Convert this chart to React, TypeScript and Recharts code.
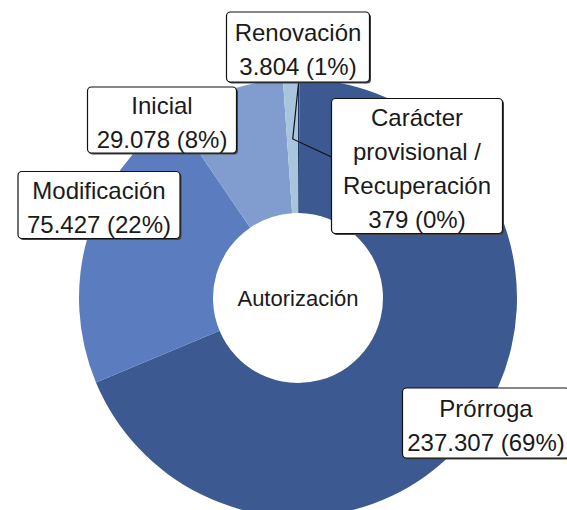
import { PieChart, Pie, Cell } from "recharts";

const categories = ["Carácter provisional / Recuperación", "Prórroga", "Modificación", "Inicial", "Renovación"];
const values = [379, 237307, 75427, 29078, 3804];
const labelNameLines = [["Carácter", "provisional /", "Recuperación"], ["Prórroga"], ["Modificación"], ["Inicial"], ["Renovación"]];
const centerTitle = "Autorización";

const colors = ["#1f3766", "#3c5a91", "#5b7dbf", "#819dd0", "#a9c5dd"];

// label box placement, relative to the pie centre
const labelLayout = [
  { dx: 119, dy: -132, w: 171, h: 135 },
  { dx: 188, dy: 125, w: 167, h: 70 },
  { dx: -199, dy: -93, w: 162, h: 67 },
  { dx: -136, dy: -178, w: 149, h: 66 },
  { dx: 0, dy: -251, w: 143, h: 70 },
];

const data = categories.map((name, i) => ({ name, value: values[i] }));
const total = values.reduce((s, v) => s + v, 0);

const FONT = "'Liberation Sans', Arial, sans-serif";
const LINE = 34;

function fmt(v: number) {
  return String(v).replace(/\B(?=(\d{3})+(?!\d))/g, ".");
}

function renderLabel(props: any) {
  const { cx, cy, index, midAngle, outerRadius } = props;
  const lay = labelLayout[index];
  const bx = cx + lay.dx;
  const by = cy + lay.dy;
  const pct = Math.round((values[index] / total) * 100);
  const lines = [...labelNameLines[index], `${fmt(values[index])} (${pct}%)`];
  const rad = (Math.PI / 180) * midAngle;
  let extra = null;
  if (index === 0) {
    const sx = cx + outerRadius * Math.cos(rad);
    const sy = cy - outerRadius * Math.sin(rad);
    const kx = sx - 6;
    const ky = cy - 159;
    const ex = bx - lay.w / 2;
    const ey = by - 9;
    extra = (
      <>
        <polyline points={`${sx},${sy + 2} ${kx},${ky} ${ex},${ey}`} fill="none" stroke="#111" strokeWidth={1.2} />
        <text x={cx} y={cy} textAnchor="middle" dominantBaseline="central" fontFamily={FONT} fontSize={22} fill="#1a1a1a">
          {centerTitle}
        </text>
      </>
    );
  }
  return (
    <g key={`lbl-${index}`}>
      {extra}
      <rect x={bx - lay.w / 2 + 1.5} y={by - lay.h / 2 + 1.5} width={lay.w} height={lay.h} rx={4} fill="#444" />
      <rect x={bx - lay.w / 2} y={by - lay.h / 2} width={lay.w} height={lay.h} rx={4} fill="#fff" stroke="#111" strokeWidth={1.2} />
      {lines.map((t, i) => (
        <text
          key={i}
          x={bx}
          y={by + 2 + (i - (lines.length - 1) / 2) * LINE}
          textAnchor="middle"
          dominantBaseline="central"
          fontFamily={FONT}
          fontSize={24}
          fill="#1a1a1a"
        >
          {t}
        </text>
      ))}
    </g>
  );
}

export default function App() {
  return (
    <div style={{ position: "absolute", left: 0, top: 0, background: "#fff" }}>
      <PieChart width={567} height={510}>
        <Pie
          data={data}
          dataKey="value"
          nameKey="name"
          cx={293}
          cy={293}
          innerRadius={85}
          outerRadius={219}
          startAngle={90}
          endAngle={-270}
          stroke="none"
          label={renderLabel}
          labelLine={false}
          isAnimationActive={false}
        >
          {data.map((d, i) => (
            <Cell key={d.name} fill={colors[i]} />
          ))}
        </Pie>
      </PieChart>
    </div>
  );
}
